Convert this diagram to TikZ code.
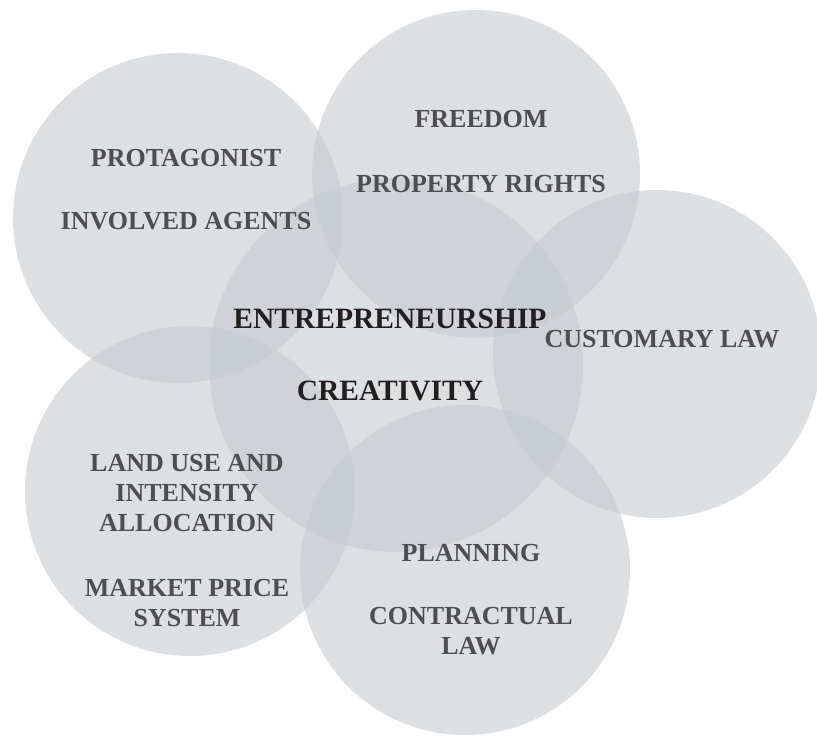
\documentclass[tikz,border=0pt]{standalone}
\usepackage{fontspec}
\setmainfont{Liberation Serif}
\definecolor{circ}{RGB}{198,203,208}
\definecolor{lab}{RGB}{78,78,80}
\definecolor{corecol}{RGB}{35,31,32}
\begin{document}
\begin{tikzpicture}[x=1pt,y=-1pt,
  bubble/.style={fill=circ,fill opacity=0.58},
  lbl/.style={text=lab,font=\bfseries\fontsize{26}{30}\selectfont,align=center,inner sep=0pt},
  corelbl/.style={text=corecol,font=\bfseries\fontsize{29.5}{34}\selectfont,inner sep=0pt}]
\useasboundingbox (0,0) rectangle (817,738);
\fill[white] (0,0) rectangle (817,738);
% circles
\fill[bubble] (178,218) circle[radius=165pt];
\fill[bubble] (476,174) circle[radius=164pt];
\fill[bubble] (657,354) circle[radius=164pt];
\fill[bubble] (396,365) circle[radius=187pt];
\fill[bubble] (190,491) circle[radius=165pt];
\fill[bubble] (465,570) circle[radius=165pt];
% labels
\node[lbl,anchor=base] (prot) at (186,167) {PROTAGONIST};
\node[lbl,anchor=base] (inv) at (186,230) {INVOLVED AGENTS};
\node[lbl,anchor=base] (free) at (481,128) {FREEDOM};
\node[lbl,anchor=base] (prop) at (481,193) {PROPERTY RIGHTS};
\node[corelbl,anchor=base] (entr) at (390,328) {ENTREPRENEURSHIP};
\node[lbl,anchor=base] (cust) at (662,347) {CUSTOMARY LAW};
\node[corelbl,anchor=base] (crea) at (390,400) {CREATIVITY};
\node[lbl] (land) at (187,493) {LAND USE AND\\INTENSITY\\ALLOCATION};
\node[lbl] (mkt) at (187,603) {MARKET PRICE\\SYSTEM};
\node[lbl,anchor=base] (plan) at (471,561) {PLANNING};
\node[lbl] (contr) at (471,631) {CONTRACTUAL\\LAW};
\end{tikzpicture}
\end{document}
